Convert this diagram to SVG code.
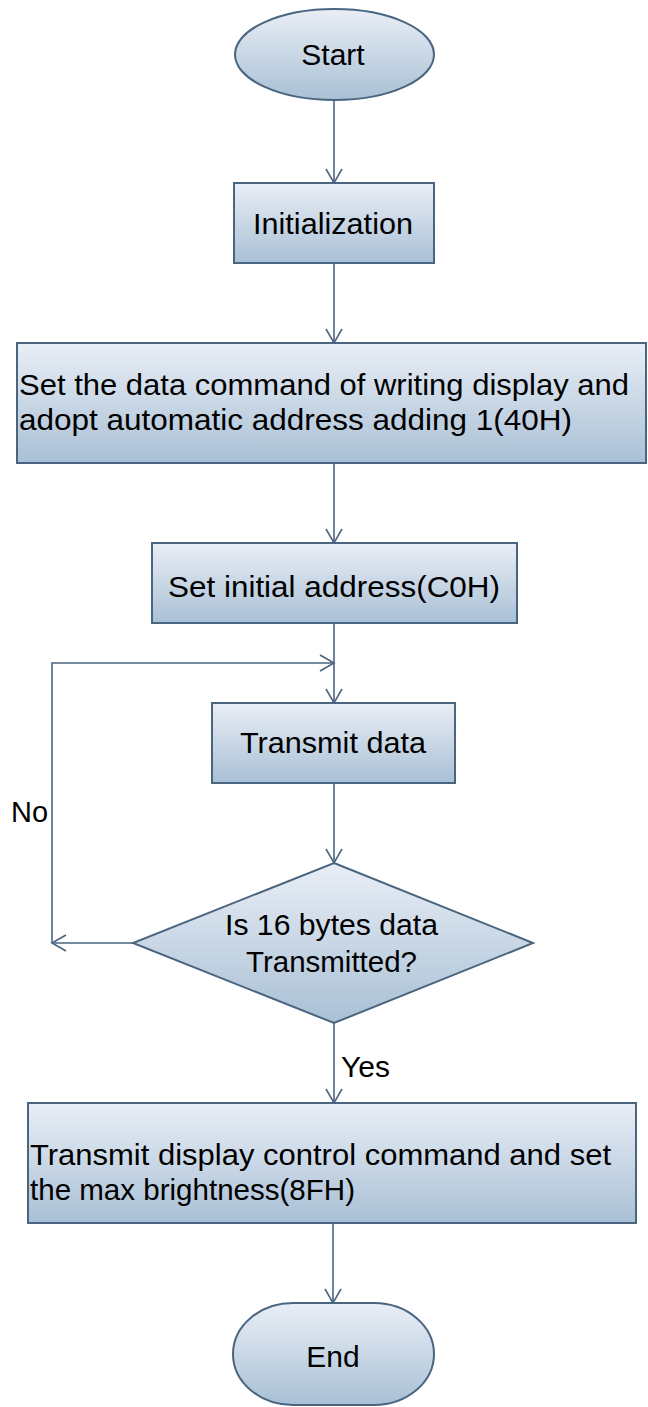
<svg xmlns="http://www.w3.org/2000/svg" width="648" height="1407" viewBox="0 0 648 1407">
  <style>
    .shape { fill: url(#g); stroke: #4a6580; stroke-width: 2; }
    .lbl { font-family: "Liberation Sans", Arial, sans-serif; font-size: 30px; fill: #000; }
    .mid { text-anchor: middle; }
    .conn { fill: none; stroke: #4a6580; stroke-width: 1.6; marker-end: url(#arr); }
  </style>
  <defs>
    <linearGradient id="g" x1="0" y1="0" x2="0" y2="1">
      <stop offset="0" stop-color="#e9eef6"/>
      <stop offset="1" stop-color="#a9c0d5"/>
    </linearGradient>
    <marker id="arr" markerUnits="userSpaceOnUse" markerWidth="20" markerHeight="20" refX="15" refY="10" orient="auto" viewBox="0 0 20 20">
      <path d="M1 2 L15 10 L1 18" fill="none" stroke="#4a6580" stroke-width="1.6"/>
    </marker>
  </defs>

  <g id="connectors">
    <path class="conn" d="M334 100 V183"/>
    <path class="conn" d="M334 263 V343"/>
    <path class="conn" d="M334 463 V543"/>
    <path class="conn" d="M334 623 V703"/>
    <path class="conn" d="M334 783 V863"/>
    <path class="conn" d="M133 943 H52"/>
    <path class="conn" d="M52 943 V663 H334"/>
    <path class="conn" d="M334 1023 V1103"/>
    <path class="conn" d="M333 1223 V1303"/>
    <text class="lbl" x="11" y="822" textLength="37" lengthAdjust="spacingAndGlyphs">No</text>
    <text class="lbl" x="341" y="1077" textLength="49" lengthAdjust="spacingAndGlyphs">Yes</text>
  </g>

  <g id="start">
    <ellipse class="shape" cx="334.5" cy="54.5" rx="99.5" ry="45.5"/>
    <text class="lbl mid" x="333" y="65">Start</text>
  </g>

  <g id="init">
    <rect class="shape" x="234" y="183" width="200" height="80"/>
    <text class="lbl mid" x="333" y="234" textLength="160" lengthAdjust="spacingAndGlyphs">Initialization</text>
  </g>

  <g id="setdata">
    <rect class="shape" x="17" y="343" width="629" height="120"/>
    <text class="lbl" x="19" y="395" textLength="610" lengthAdjust="spacingAndGlyphs">Set the data command of writing display and</text>
    <text class="lbl" x="19" y="430" textLength="553" lengthAdjust="spacingAndGlyphs">adopt automatic address adding 1(40H)</text>
  </g>

  <g id="setaddr">
    <rect class="shape" x="152" y="543" width="365" height="80"/>
    <text class="lbl" x="168" y="597" textLength="332" lengthAdjust="spacingAndGlyphs">Set initial address(C0H)</text>
  </g>

  <g id="transmit">
    <rect class="shape" x="212" y="703" width="243" height="80"/>
    <text class="lbl" x="240" y="753" textLength="186" lengthAdjust="spacingAndGlyphs">Transmit data</text>
  </g>

  <g id="decision">
    <polygon class="shape" points="334,863 533,943 334,1023 133,943"/>
    <text class="lbl" x="225" y="935" textLength="213" lengthAdjust="spacingAndGlyphs">Is 16 bytes data</text>
    <text class="lbl" x="246" y="972" textLength="171" lengthAdjust="spacingAndGlyphs">Transmitted?</text>
  </g>

  <g id="control">
    <rect class="shape" x="28" y="1103" width="608" height="120"/>
    <text class="lbl" x="30" y="1165" textLength="581" lengthAdjust="spacingAndGlyphs">Transmit display control command and set</text>
    <text class="lbl" x="30" y="1200" textLength="325" lengthAdjust="spacingAndGlyphs">the max brightness(8FH)</text>
  </g>

  <g id="end">
    <rect class="shape" x="233" y="1303" width="201" height="102" rx="60" ry="51"/>
    <text class="lbl mid" x="333" y="1367">End</text>
  </g>
</svg>
